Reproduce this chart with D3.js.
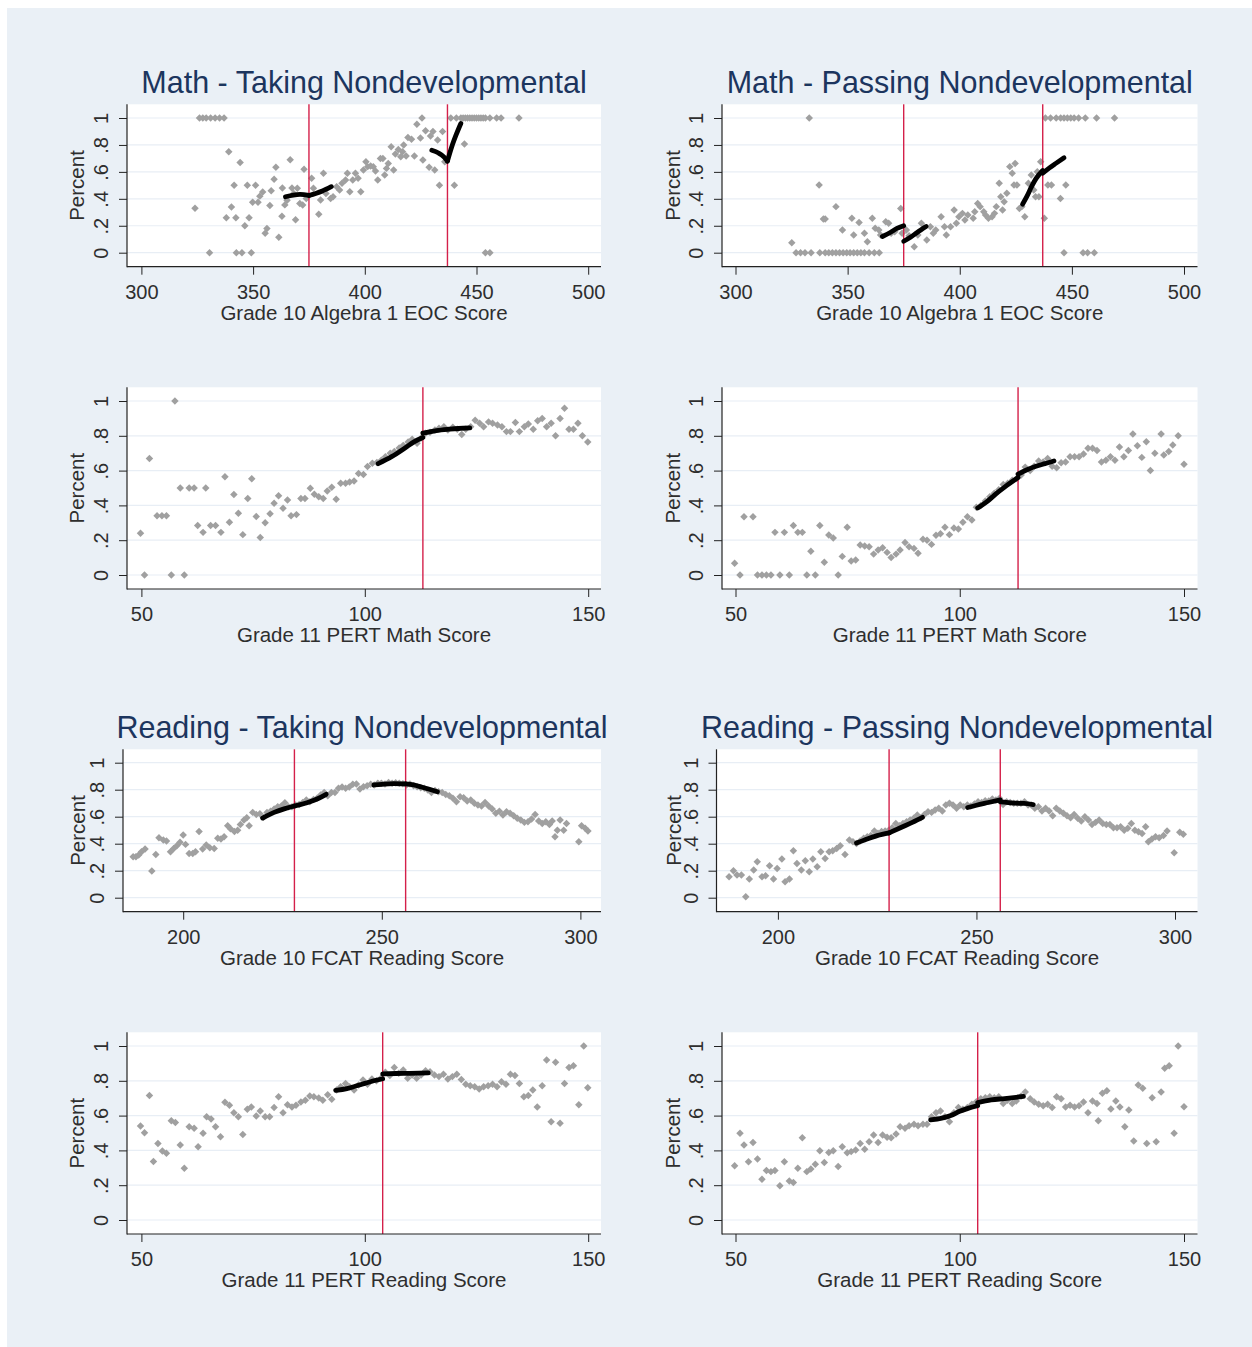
<!DOCTYPE html>
<html>
<head>
<meta charset="utf-8">
<script src="https://cdn.jsdelivr.net/npm/d3@7"></script>
<style>
  html, body { margin: 0; padding: 0; background: #ffffff; }
  svg { display: block; font-family: "Liberation Sans", Arial, Helvetica, sans-serif; }
</style>
</head>
<body>
<svg id="chart" width="1252" height="1347"></svg>
<script>
// ---------------- data ----------------
const groupTitles = ["Math - Taking Nondevelopmental", "Math - Passing Nondevelopmental",
                     "Reading - Taking Nondevelopmental", "Reading - Passing Nondevelopmental"];
const xTitles = ["Grade 10 Algebra 1 EOC Score", "Grade 11 PERT Math Score",
                 "Grade 10 FCAT Reading Score", "Grade 11 PERT Reading Score"];
const yTitle = "Percent";

const eocTicks = [300, 350, 400, 450, 500];
const pertTicks = [50, 100, 150];
const fcatTicks = [200, 250, 300];
const percentTicks = [0, 0.2, 0.4, 0.6, 0.8, 1];

const eocCutoffs = [375, 437];
const pertMathCutoffs = [113];
const fcatCutoffs = [228, 256];
const pertReadCutoffs = [104];

// binned shares: [score, share]
const mathTakeEoc = [
  [324,0.33],[326,1],[327.5,1],[329,1],[331,1],[333,1],[335,1],[337,1],
  [330.5,0],[342.5,0],[345,0],[349.2,0],
  [338,0.26],[339.1,0.75],[340.3,0.34],[341.5,0.5],[342.3,0.26],[344.2,0.67],[346.3,0.2],[347.4,0.5],
  [348.2,0.26],[349.8,0.375],[351.1,0.5],[352.2,0.375],[353,0.42],[354.3,0.45],[355.4,0.145],[356.2,0.18],
  [357.5,0.35],[358.1,0.46],[359.4,0.545],[360.2,0.635],[361.5,0.115],[362.9,0.27],[363.1,0.48],[364.2,0.355],
  [365.2,0.39],[366.6,0.69],[367.4,0.48],[368.2,0.44],[369,0.245],[369.8,0.478],[370.9,0.366],[372.2,0.354],
  [372.8,0.62],[373.8,0.403],[376.2,0.552],[377,0.478],[379.4,0.285],[380.2,0.391],[381.5,0.589],[382.6,0.44],
  [384.7,0.403],[385.8,0.416],[387.4,0.49],[388.7,0.465],[389.8,0.515],[391.4,0.54],[392.2,0.589],[393.3,0.453],
  [394.6,0.54],[395.8,0.589],[397,0.552],[398.2,0.453],[399.4,0.614],[400.5,0.676],[401.3,0.639],[402.6,0.644],
  [403.8,0.639],[404.8,0.606],[405.8,0.54],[407,0.7],[408.1,0.7],[408.9,0.577],[409.7,0.626],[410.5,0.663],
  [411.8,0.787],[412.9,0.614],[413.7,0.733],[415,0.767],[416.1,0.713],[416.9,0.75],[417.4,0.8],[418.5,0.718],
  [419.3,0.856],[420.9,0.842],[422.2,0.718],[423.3,0.953],[424.9,0.851],[426,0.688],[427.2,0.906],[428.8,0.634],
  [429.4,0.866],[430.5,0.899],[431.3,0.614],[432.6,0.837],[433.4,0.5],[434.8,0.899],[435.8,0.676],[440.1,0.5],
  [444.6,0.807],[425.6,1],[438.5,1],[441,1],[443,1],[444,1],[445,1],[446,1],[447,1],[448,1],[449,1],[450,1],
  [451,1],[452,1],[453,1],[454,1],[456,1],[459,1],[461,1],[469,1],[454,0],[456,0]
];
const mathPassEoc = [
  [325.1,0.074],[337.3,0.502],[339.2,0.25],[340,0.25],[344.8,0.342],[347.7,0.168],[351.9,0.255],[352.7,0.131],
  [355.1,0.225],[357.5,0.144],[358.8,0.082],[361,0.255],[362.3,0.181],[363.9,0.168],[364.7,0.131],[367,0.23],
  [368.3,0.218],[369.4,0.144],[371,0.156],[373.7,0.329],[374.3,0.144],[376.2,0.168],[377.4,0.126],[379.7,0.045],
  [381.3,0.131],[382.9,0.218],[385.3,0.094],[386.9,0.193],[388.2,0.144],[389.3,0.168],[391.7,0.267],[393.2,0.193],
  [394,0.131],[395.9,0.193],[397.5,0.317],[398.5,0.218],[399.6,0.267],[401.2,0.292],[402.3,0.243],[403.6,0.28],
  [406,0.255],[406.7,0.304],[408,0.366],[409.1,0.342],[410.7,0.304],[411.5,0.28],[412.8,0.255],[414.4,0.267],
  [415.5,0.292],[416.3,0.342],[417.6,0.515],[418.3,0.416],[419.1,0.317],[419.8,0.379],[421,0.441],[422.3,0.639],
  [423.4,0.589],[424.2,0.502],[424.7,0.663],[425.5,0.502],[426.6,0.329],[427.7,0.342],[429,0.267],[430.6,0.515],
  [431.9,0.577],[433,0.465],[433.8,0.416],[434.6,0.601],[435.3,0.416],[436.1,0.676],[437.7,0.255],[439.3,0.502],
  [440.9,0.502],[444.9,0.403],[447.3,0.502],
  [332.9,1],[438.2,1],[440.5,1],[443,1],[445,1],[446.5,1],[448,1],[449.5,1],[451,1],[453,1],[456,1],[461,1],[469,1],
  [327,0],[329,0],[331,0],[333.7,0],[337.6,0],[340,0],[341.6,0],[343.2,0],[344.8,0],[346.4,0],[348,0],[349.6,0],
  [351.1,0],[352.7,0],[354.3,0],[355.9,0],[357.5,0],[359.6,0],[361.9,0],[364.1,0],[446.5,0],[455,0],[457,0],[460,0]
];
const mathTakePert = [
  [49.8,0.24],[50.7,0],[51.8,0.67],[53.5,0.34],[54.6,0.34],[55.6,0.34],[56.7,0],[57.5,1],[58.7,0.5],[59.6,0],
  [60.7,0.5],[61.8,0.5],[62.6,0.284],[63.8,0.245],[64.4,0.5],[65.5,0.284],[66.6,0.284],[67.8,0.245],[68.7,0.565],
  [69.7,0.303],[70.7,0.462],[71.7,0.355],[72.7,0.232],[73.8,0.44],[74.7,0.553],[75.7,0.336],[76.6,0.216],[77.7,0.3],
  [78.8,0.352],[79.7,0.412],[80.7,0.456],[81.7,0.383],[82.7,0.431],[83.5,0.341],[84.7,0.347],[85.7,0.44],[86.6,0.44],
  [87.8,0.498],[88.7,0.464],[89.7,0.45],[90.7,0.44],[91.6,0.483],[92.6,0.504],[93.6,0.435],[94.6,0.527],[95.7,0.527],
  [96.6,0.534],[97.6,0.54],[98.6,0.584],[99.7,0.577],[100.6,0.623],[101.7,0.642],[102.7,0.646],[103.7,0.66],
  [104.6,0.68],[105.7,0.7],[106.6,0.71],[107.7,0.73],[108.6,0.745],[109.7,0.765],[110.6,0.78],[111.7,0.757],
  [112.6,0.787],[113.6,0.814],[114.6,0.82],[115.7,0.833],[116.6,0.843],[117.7,0.852],[118.6,0.833],[119.7,0.849],
  [120.7,0.837],[121.7,0.808],[122.6,0.837],[123.7,0.852],[124.7,0.89],[125.7,0.872],[126.6,0.852],[127.7,0.88],
  [128.6,0.872],[129.7,0.862],[130.7,0.852],[131.7,0.824],[132.6,0.824],[133.7,0.876],[134.6,0.824],[135.7,0.852],
  [136.6,0.868],[137.7,0.837],[138.7,0.887],[139.7,0.9],[140.7,0.852],[141.7,0.872],[142.7,0.8],[143.7,0.9],
  [144.7,0.958],[145.7,0.837],[146.7,0.837],[147.7,0.872],[148.7,0.8],[149.9,0.765]
];
const mathPassPert = [
  [49.8,0.067],[51,0],[51.9,0.335],[53.9,0.335],[54.9,0],[55.9,0],[56.9,0],[57.9,0],[58.8,0.245],[59.9,0],
  [60.9,0.245],[62,0],[62.9,0.284],[63.9,0.245],[64.9,0.245],[65.9,0],[66.8,0.136],[67.8,0],[68.8,0.284],[69.8,0.073],
  [70.8,0.23],[71.8,0.213],[72.9,0],[73.8,0.107],[74.9,0.274],[75.8,0.08],[76.8,0.086],[77.8,0.172],[78.8,0.167],
  [79.8,0.163],[80.8,0.12],[81.8,0.144],[82.8,0.157],[83.8,0.13],[84.7,0.1],[85.8,0.12],[86.7,0.144],[87.8,0.187],
  [88.7,0.163],[89.8,0.153],[90.7,0.125],[91.8,0.205],[92.7,0.2],[93.7,0.176],[94.7,0.228],[95.7,0.237],[96.7,0.274],
  [97.7,0.232],[98.7,0.27],[99.7,0.264],[100.7,0.303],[101.7,0.335],[102.7,0.316],[103.7,0.39],[104.7,0.4],
  [105.7,0.425],[106.7,0.45],[107.7,0.47],[108.7,0.49],[109.7,0.52],[110.7,0.527],[111.7,0.545],[112.7,0.555],
  [113.7,0.575],[114.6,0.62],[115.7,0.6],[116.6,0.625],[117.6,0.655],[118.6,0.65],[119.6,0.67],[120.6,0.625],
  [121.6,0.617],[122.6,0.645],[123.6,0.65],[124.6,0.68],[125.6,0.68],[126.6,0.68],[127.6,0.695],[128.6,0.728],
  [129.6,0.728],[130.6,0.715],[131.6,0.65],[132.6,0.66],[133.6,0.68],[134.6,0.66],[135.6,0.736],[136.6,0.68],
  [137.6,0.715],[138.6,0.81],[139.6,0.743],[140.6,0.676],[141.6,0.766],[142.5,0.6],[143.5,0.7],[144.9,0.81],
  [145.5,0.69],[146.6,0.71],[147.5,0.747],[148.7,0.8],[150,0.636]
];
const readTakeFcat = [
  [187.4,0.304],[188.1,0.304],[188.8,0.316],[189.5,0.34],[190.4,0.36],[192.1,0.198],[193.1,0.32],[193.9,0.444],
  [195,0.427],[195.8,0.42],[196.8,0.34],[197.6,0.365],[198.4,0.385],[199.2,0.41],[200,0.464],[200.6,0.395],
  [201.5,0.328],[202.4,0.328],[203.1,0.34],[204,0.49],[204.9,0.36],[205.8,0.39],[206.7,0.37],[207.8,0.365],
  [208.7,0.44],[209.5,0.435],[210.3,0.452],[211.2,0.533],[211.9,0.51],[212.9,0.49],[213.7,0.5],[214.4,0.543],
  [215.3,0.575],[216,0.593],[216.6,0.533],[217.5,0.632],[218.4,0.617],[219.3,0.622],[220.2,0.595],[221.1,0.632],
  [222,0.64],[222.9,0.657],[223.8,0.674],[224.7,0.68],[225.6,0.704],[226.5,0.674],[227.4,0.674],[228.3,0.686],
  [229.2,0.69],[230.1,0.706],[231,0.723],[231.9,0.711],[232.8,0.728],[233.7,0.736],[234.6,0.76],[235.5,0.78],
  [236.4,0.756],[237.3,0.78],[238.2,0.78],[239.1,0.81],[240,0.82],[240.9,0.81],[241.8,0.82],[242.7,0.84],
  [243.6,0.842],[244.5,0.805],[245.4,0.822],[246.3,0.83],[247.2,0.84],[248.1,0.835],[249,0.847],[249.9,0.847],
  [250.8,0.842],[251.7,0.853],[252.6,0.847],[253.5,0.852],[254.4,0.847],[255.3,0.844],[256.2,0.835],[257.1,0.842],
  [258,0.83],[258.9,0.822],[259.8,0.815],[260.7,0.81],[261.6,0.798],[262.5,0.78],[263.4,0.795],[264.3,0.785],
  [265.2,0.78],[266.1,0.765],[267,0.756],[267.9,0.736],[268.8,0.711],[269.7,0.748],[270.6,0.74],[271.5,0.716],
  [272.4,0.723],[273.3,0.7],[274.2,0.686],[275.1,0.68],[276,0.706],[276.9,0.68],[277.8,0.657],[278.7,0.625],
  [279.6,0.64],[280.5,0.612],[281.4,0.637],[282.3,0.625],[283.2,0.607],[284.1,0.588],[285,0.575],[285.9,0.558],
  [286.8,0.563],[287.7,0.583],[288.6,0.617],[289.5,0.568],[290.4,0.55],[291.3,0.563],[292.2,0.543],[292.9,0.568],
  [293.6,0.452],[294.2,0.5],[294.9,0.575],[295.8,0.5],[296.5,0.55],[299.6,0.415],[300.3,0.533],[301.2,0.514],
  [301.9,0.494]
];
const readPassFcat = [
  [187.7,0.156],[188.8,0.2],[189.7,0.168],[190.8,0.168],[191.9,0.007],[192.8,0.138],[193.9,0.205],[194.8,0.267],
  [196,0.156],[196.9,0.163],[197.9,0.237],[198.9,0.138],[199.8,0.217],[201,0.286],[201.8,0.118],[202.9,0.138],
  [203.9,0.348],[204.8,0.254],[205.9,0.205],[206.9,0.274],[207.9,0.193],[208.8,0.286],[209.9,0.23],[210.8,0.34],
  [211.9,0.29],[212.9,0.34],[213.8,0.348],[214.8,0.365],[215.7,0.385],[216.9,0.32],[218,0.427],[218.9,0.415],
  [219.8,0.402],[220.7,0.42],[221.6,0.44],[222.5,0.452],[223.4,0.46],[224.3,0.494],[225.2,0.478],[226.1,0.49],
  [227,0.494],[227.9,0.5],[228.8,0.518],[229.7,0.55],[230.6,0.533],[231.5,0.55],[232.4,0.563],[233.3,0.575],
  [234.2,0.588],[235.1,0.612],[236,0.593],[236.9,0.617],[237.8,0.637],[238.7,0.632],[239.6,0.649],[240.5,0.662],
  [241.4,0.642],[242.3,0.686],[243.2,0.7],[244.1,0.686],[245,0.662],[245.9,0.686],[246.8,0.674],[247.7,0.686],
  [248.6,0.68],[249.5,0.694],[250.4,0.711],[251.3,0.706],[252.2,0.718],[253.1,0.716],[254,0.731],[254.9,0.723],
  [255.8,0.736],[256.7,0.69],[257.6,0.711],[258.5,0.706],[259.4,0.7],[260.3,0.7],[261.2,0.7],[262.1,0.711],
  [263,0.686],[263.8,0.686],[264.7,0.662],[265.6,0.674],[266.5,0.642],[267.4,0.662],[268.3,0.642],[269.2,0.607],
  [270.1,0.662],[271,0.642],[271.9,0.625],[272.8,0.607],[273.7,0.593],[274.6,0.617],[275.5,0.588],[276.4,0.568],
  [277.3,0.6],[278.2,0.575],[279.1,0.543],[280,0.558],[280.9,0.575],[281.8,0.55],[282.7,0.543],[283.6,0.543],
  [284.5,0.518],[285.4,0.518],[286.3,0.526],[287.2,0.5],[288.1,0.514],[289,0.55],[289.9,0.5],[290.8,0.489],
  [291.7,0.476],[292.6,0.526],[293.3,0.415],[294.2,0.435],[295.1,0.452],[296,0.444],[297.1,0.46],[298,0.494],
  [299.8,0.333],[301.2,0.484],[302.1,0.47]
];
const readTakePert = [
  [49.8,0.54],[50.7,0.502],[51.8,0.715],[52.7,0.336],[53.7,0.44],[54.7,0.397],[55.6,0.383],[56.7,0.571],[57.6,0.56],
  [58.7,0.431],[59.6,0.297],[60.7,0.536],[61.8,0.527],[62.7,0.421],[63.8,0.498],[64.6,0.594],[65.6,0.58],[66.6,0.536],
  [67.7,0.479],[68.7,0.677],[69.7,0.66],[70.7,0.617],[71.7,0.594],[72.7,0.492],[73.7,0.636],[74.6,0.649],[75.7,0.598],
  [76.6,0.626],[77.7,0.594],[78.7,0.594],[79.7,0.646],[80.7,0.709],[81.7,0.617],[82.7,0.663],[83.7,0.649],[84.6,0.66],
  [85.7,0.678],[86.7,0.688],[87.7,0.713],[88.6,0.709],[89.7,0.701],[90.6,0.688],[91.7,0.72],[92.6,0.694],[93.7,0.747],
  [94.6,0.766],[95.7,0.785],[96.6,0.766],[97.6,0.747],[98.6,0.776],[99.6,0.804],[100.6,0.78],[101.6,0.81],[102.6,0.8],
  [103.6,0.814],[104.6,0.849],[105.6,0.83],[106.6,0.876],[107.6,0.843],[108.6,0.862],[109.6,0.814],[110.6,0.833],
  [111.6,0.814],[112.6,0.833],[113.6,0.858],[114.6,0.852],[115.6,0.833],[116.6,0.824],[117.6,0.837],[118.6,0.81],
  [119.6,0.824],[120.6,0.837],[121.6,0.808],[122.6,0.78],[123.6,0.772],[124.6,0.766],[125.6,0.753],[126.6,0.766],
  [127.6,0.772],[128.6,0.78],[129.6,0.766],[130.6,0.795],[131.6,0.78],[132.6,0.837],[133.6,0.83],[134.6,0.785],
  [135.6,0.709],[136.6,0.715],[137.6,0.747],[138.6,0.649],[139.7,0.772],[140.7,0.92],[141.7,0.565],[142.7,0.906],
  [143.7,0.556],[144.7,0.785],[145.7,0.876],[146.7,0.887],[147.9,0.663],[149,1],[149.9,0.76]
];
const readPassPert = [
  [49.8,0.312],[51,0.498],[51.9,0.431],[52.9,0.335],[53.9,0.446],[54.9,0.35],[55.9,0.234],[56.9,0.284],[57.9,0.278],
  [58.8,0.284],[59.9,0.197],[60.9,0.335],[62,0.224],[62.9,0.215],[63.9,0.297],[64.9,0.473],[65.9,0.278],[66.8,0.293],
  [67.8,0.32],[68.8,0.398],[69.8,0.33],[70.8,0.388],[71.8,0.398],[72.9,0.307],[73.8,0.421],[74.9,0.387],[75.8,0.393],
  [76.8,0.402],[77.8,0.439],[78.8,0.406],[79.8,0.45],[80.8,0.488],[81.8,0.446],[82.8,0.488],[83.8,0.475],[84.7,0.473],
  [85.8,0.494],[86.7,0.536],[87.8,0.527],[88.7,0.542],[89.8,0.55],[90.7,0.542],[91.8,0.55],[92.7,0.55],[93.7,0.594],
  [94.7,0.617],[95.7,0.626],[96.7,0.594],[97.7,0.565],[98.7,0.617],[99.7,0.646],[100.7,0.636],[101.7,0.646],
  [102.7,0.665],[103.7,0.68],[104.7,0.697],[105.7,0.703],[106.7,0.709],[107.7,0.703],[108.7,0.709],[109.7,0.67],
  [110.6,0.688],[111.7,0.67],[112.6,0.684],[113.7,0.713],[114.6,0.736],[115.7,0.697],[116.6,0.678],[117.6,0.665],
  [118.6,0.657],[119.6,0.665],[120.6,0.646],[121.6,0.709],[122.6,0.697],[123.6,0.649],[124.6,0.66],[125.6,0.649],
  [126.6,0.657],[127.6,0.678],[128.6,0.617],[129.6,0.684],[130.6,0.67],[130.9,0.57],[131.8,0.728],[132.8,0.743],
  [133.7,0.638],[134.8,0.684],[135.7,0.649],[136.8,0.536],[137.7,0.632],[138.8,0.454],[139.8,0.776],[140.8,0.757],
  [141.7,0.44],[142.9,0.703],[143.8,0.45],[144.9,0.736],[145.7,0.872],[146.7,0.887],[147.8,0.498],[148.7,1],[150,0.651]
];

// local fits on each side of every cutoff: lists of [score, fitted share]
const mathTakeEocFit = [
  [[364.5,0.415],[368,0.428],[371,0.433],[375,0.425]],
  [[375,0.425],[378,0.44],[381,0.458],[385,0.49]],
  [[430,0.76],[433,0.74],[435.5,0.71],[437,0.68]],
  [[437,0.68],[439,0.79],[441,0.88],[443,0.96]]
];
const mathPassEocFit = [
  [[365.5,0.12],[369,0.15],[372,0.18],[375,0.2]],
  [[375,0.085],[378,0.115],[381,0.15],[385,0.195]],
  [[428,0.36],[430,0.42],[432,0.49],[434,0.55],[437,0.61]],
  [[437,0.59],[440,0.63],[443,0.665],[446.5,0.705]]
];
const mathTakePertFit = [
  [[103,0.64],[106,0.68],[109,0.73],[111,0.765],[113,0.79]],
  [[113,0.815],[116,0.83],[119,0.838],[121,0.842],[123.5,0.845]]
];
const mathPassPertFit = [
  [[104,0.385],[106,0.42],[108,0.465],[110,0.505],[113,0.56]],
  [[113,0.58],[115,0.605],[117,0.625],[119,0.64],[121,0.655]]
];
const readTakeFcatFit = [
  [[220,0.59],[222.9,0.632],[225.6,0.66],[228,0.679]],
  [[228,0.679],[231.9,0.711],[234,0.735],[236,0.766]],
  [[248,0.835],[250,0.84],[253,0.845],[256,0.843]],
  [[256,0.843],[258,0.835],[260,0.82],[262,0.803],[264,0.785]]
];
const readPassFcatFit = [
  [[219.8,0.405],[222,0.43],[225,0.46],[228,0.48]],
  [[228,0.48],[231,0.52],[234,0.56],[236.4,0.595]],
  [[247.8,0.668],[250,0.685],[253,0.705],[256,0.725]],
  [[256,0.71],[258,0.705],[260,0.7],[262,0.698],[264.3,0.69]]
];
const readTakePertFit = [
  [[93.5,0.745],[96,0.755],[98,0.77],[100,0.785],[102,0.8],[104,0.812]],
  [[104,0.84],[107,0.842],[110,0.843],[114.2,0.845]]
];
const readPassPertFit = [
  [[93.5,0.575],[96,0.585],[98,0.6],[100,0.625],[102,0.643],[104,0.657]],
  [[104,0.675],[107,0.69],[110,0.698],[114.2,0.71]]
];

// ---------------- layout ----------------
const colGeom = [
  { axisX: 127, right: 601, p0: 141.4, p1: 588.2, pctX: 84 },
  { axisX: 722, right: 1197.5, p0: 735.5, p1: 1184, pctX: 680 }
];
const colGeomFcat = [
  { axisX: 123, right: 601, p0: 183.2, p1: 580.4, pctX: 85 },
  { axisX: 716.5, right: 1197.5, p0: 777.9, p1: 1175, pctX: 681 }
];
const rowGeom = [
  { top: 104.3, y1: 118, y0: 252.7, bottom: 266.7 },
  { top: 387.3, y1: 401, y0: 575, bottom: 589 },
  { top: 749.3, y1: 762.7, y0: 897.7, bottom: 911.7 },
  { top: 1032.3, y1: 1046, y0: 1220, bottom: 1234 }
];

const panels = [
  { row: 0, col: 0, title: groupTitles[0], xTitle: xTitles[0], ticks: eocTicks, cut: eocCutoffs, pts: mathTakeEoc, fit: mathTakeEocFit },
  { row: 0, col: 1, title: groupTitles[1], xTitle: xTitles[0], ticks: eocTicks, cut: eocCutoffs, pts: mathPassEoc, fit: mathPassEocFit },
  { row: 1, col: 0, title: null, xTitle: xTitles[1], ticks: pertTicks, cut: pertMathCutoffs, pts: mathTakePert, fit: mathTakePertFit },
  { row: 1, col: 1, title: null, xTitle: xTitles[1], ticks: pertTicks, cut: pertMathCutoffs, pts: mathPassPert, fit: mathPassPertFit },
  { row: 2, col: 0, title: groupTitles[2], xTitle: xTitles[2], ticks: fcatTicks, cut: fcatCutoffs, pts: readTakeFcat, fit: readTakeFcatFit, fcat: true },
  { row: 2, col: 1, title: groupTitles[3], xTitle: xTitles[2], ticks: fcatTicks, cut: fcatCutoffs, pts: readPassFcat, fit: readPassFcatFit, fcat: true },
  { row: 3, col: 0, title: null, xTitle: xTitles[3], ticks: pertTicks, cut: pertReadCutoffs, pts: readTakePert, fit: readTakePertFit },
  { row: 3, col: 1, title: null, xTitle: xTitles[3], ticks: pertTicks, cut: pertReadCutoffs, pts: readPassPert, fit: readPassPertFit }
];

// ---------------- drawing ----------------
const svg = d3.select("#chart");
svg.append("rect").attr("x", 0).attr("y", 0).attr("width", 1252).attr("height", 1347).attr("fill", "#ffffff");
svg.append("rect").attr("x", 7).attr("y", 8).attr("width", 1245).attr("height", 1339).attr("fill", "#eaf0f6");

const TEXT = "#2e2e2e";
const pctFmt = d => d === 0 ? "0" : d === 1 ? "1" : String(d).replace(/^0/, "");
const diamond = d3.symbol().type(d3.symbolSquare).size(28);

panels.forEach(p => {
  const c = (p.fcat ? colGeomFcat : colGeom)[p.col];
  const r = rowGeom[p.row];
  const x = d3.scaleLinear().domain([p.ticks[0], p.ticks[p.ticks.length - 1]]).range([c.p0, c.p1]);
  const y = d3.scaleLinear().domain([0, 1]).range([r.y0, r.y1]);
  const g = svg.append("g");

  // plot region
  g.append("rect").attr("x", c.axisX).attr("y", r.top)
    .attr("width", c.right - c.axisX).attr("height", r.bottom - r.top).attr("fill", "#ffffff");

  // horizontal grid
  g.append("g").selectAll("line").data(percentTicks).join("line")
    .attr("x1", c.axisX).attr("x2", c.right)
    .attr("y1", d => y(d)).attr("y2", d => y(d))
    .attr("stroke", "#e8eef5").attr("stroke-width", 1.2);

  // scatter of binned shares
  g.append("g").selectAll("path").data(p.pts).join("path")
    .attr("d", diamond)
    .attr("transform", d => `translate(${x(d[0])},${y(d[1])}) rotate(45)`)
    .attr("fill", "#a0a0a0");

  // cutoff lines
  g.append("g").selectAll("line").data(p.cut).join("line")
    .attr("x1", d => x(d)).attr("x2", d => x(d))
    .attr("y1", r.top).attr("y2", r.bottom)
    .attr("stroke", "#d4204a").attr("stroke-width", 1.4);

  // local fits
  const line = d3.line().x(d => x(d[0])).y(d => y(d[1])).curve(d3.curveMonotoneX);
  g.append("g").selectAll("path").data(p.fit).join("path")
    .attr("d", line).attr("fill", "none")
    .attr("stroke", "#000000").attr("stroke-width", 4.8)
    .attr("stroke-linecap", "round").attr("stroke-linejoin", "round");

  // axes
  const xAxis = d3.axisBottom(x).tickValues(p.ticks).tickSize(8).tickSizeOuter(0).tickPadding(10);
  const gx = g.append("g").attr("transform", `translate(0,${r.bottom})`).call(xAxis);
  gx.select(".domain").remove();
  gx.selectAll("line").attr("stroke", "#222");
  gx.selectAll("text").attr("font-size", 20).attr("fill", TEXT).attr("font-family", null);

  const yAxis = d3.axisLeft(y).tickValues(percentTicks).tickFormat(pctFmt).tickSize(8).tickSizeOuter(0);
  const gy = g.append("g").attr("transform", `translate(${c.axisX},0)`).call(yAxis);
  gy.select(".domain").remove();
  gy.selectAll("line").attr("stroke", "#222");
  gy.selectAll("text")
    .attr("x", null).attr("dy", null).attr("y", null)
    .attr("text-anchor", "middle")
    .attr("transform", "translate(-19,0) rotate(-90)")
    .attr("font-size", 20).attr("fill", TEXT).attr("font-family", null);

  g.append("line").attr("x1", c.axisX).attr("x2", c.axisX).attr("y1", r.top).attr("y2", r.bottom + 0.5)
    .attr("stroke", "#222").attr("stroke-width", 1.2);
  g.append("line").attr("x1", c.axisX).attr("x2", c.right).attr("y1", r.bottom).attr("y2", r.bottom)
    .attr("stroke", "#222").attr("stroke-width", 1.2);

  // axis titles
  g.append("text").attr("x", (c.axisX + c.right) / 2).attr("y", r.bottom + 53)
    .attr("text-anchor", "middle").attr("font-size", 20.5).attr("fill", TEXT).text(p.xTitle);
  g.append("text").attr("transform", `translate(${c.pctX},${(r.top + r.bottom) / 2}) rotate(-90)`)
    .attr("text-anchor", "middle").attr("font-size", 20.5).attr("fill", TEXT).text(yTitle);

  if (p.title) {
    g.append("text").attr("x", (c.axisX + c.right) / 2).attr("y", r.top - 11)
      .attr("text-anchor", "middle").attr("font-size", 30.5).attr("fill", "#1c355e").text(p.title);
  }
});
</script>
</body>
</html>
